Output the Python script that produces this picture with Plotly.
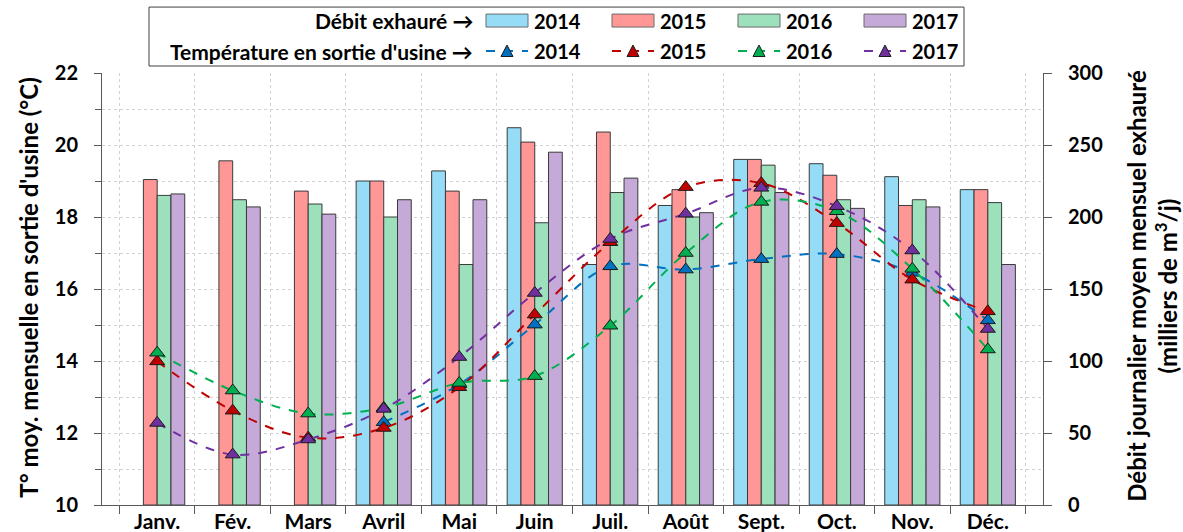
import plotly.graph_objects as go

# ---------------- data ----------------
months = ["Janv.", "Fév.", "Mars", "Avril", "Mai", "Juin", "Juil.", "Août", "Sept.", "Oct.", "Nov.", "Déc."]
years = ["2014", "2015", "2016", "2017"]

debit_2014 = [None, None, None, 225, 232, 262, 167, 208, 240, 237, 228, 219]
debit_2015 = [226, 239, 218, 225, 218, 252, 259, 219, 240, 229, 208, 219]
debit_2016 = [215, 212, 209, 200, 167, 196, 217, 200, 236, 212, 212, 210]
debit_2017 = [216, 207, 202, 212, 212, 245, 227, 203, 217, 206, 207, 167]

temp_2014 = [None, None, None, 12.30, 13.35, 15.01, 16.63, 16.54, 16.83, 16.97, 16.45, 15.13]
temp_2015 = [13.99, 12.62, 11.87, 12.14, 13.27, 15.29, 17.30, 18.83, 18.94, 17.83, 16.26, 15.38]
temp_2016 = [14.23, 13.18, 12.54, 12.70, 13.39, 13.58, 14.98, 17.00, 18.42, 18.16, 16.56, 14.32]
temp_2017 = [12.28, 11.40, 11.82, 12.67, 14.11, 15.89, 17.39, 18.09, 18.81, 18.30, 17.07, 14.89]

left_title = "T° moy. mensuelle en sortie d'usine (°C)"
right_title = "Débit journalier moyen mensuel exhauré<br>(milliers de m<sup>3</sup>/j)"
legend_bar_label = "Débit exhauré →"
legend_line_label = "Température en sortie d'usine →"

# ---------------- styles ----------------
bar_colors = ["#97DCF6", "#FF9797", "#9DE0BC", "#C5A9D8"]
line_colors = ["#0070C0", "#C00000", "#00B050", "#7030A0"]
FONT = "Lato"
W, H = 1183, 532
ML, MR, MT, MB = 102, 140, 73, 26.5
PW, PH = W - ML - MR, H - MT - MB


def px(x):
    return (x - ML) / PW


def py(y):
    return (H - MB - y) / PH


debits = [debit_2014, debit_2015, debit_2016, debit_2017]
temps = [temp_2014, temp_2015, temp_2016, temp_2017]

fig = go.Figure()
for yr, vals, col in zip(years, debits, bar_colors):
    fig.add_trace(go.Bar(
        x=months, y=vals, name="Débit " + yr, yaxis="y",
        marker=dict(color=col, line=dict(color="#3a3a3a", width=1)),
        showlegend=False,
    ))

for yr, vals, col in zip(years, temps, line_colors):
    fig.add_trace(go.Scatter(
        x=months, y=vals, name="Température " + yr, yaxis="y2",
        mode="lines+markers",
        line=dict(color=col, width=2, dash="dash", shape="spline", smoothing=1),
        marker=dict(symbol="triangle-up", size=13, color=col,
                    line=dict(color="#1a1a1a", width=1)),
        showlegend=False,
    ))

grid_col = "#D2D2D2"
axis_col = "#595959"
ytick_font = dict(family=FONT, size=20, color="#000000", weight="bold")
xtick_font = dict(family=FONT, size=21, color="#000000", weight="bold")

fig.update_layout(
    width=W, height=H,
    margin=dict(l=ML, r=MR, t=MT, b=MB, autoexpand=False),
    paper_bgcolor="white", plot_bgcolor="white",
    font=dict(family=FONT, color="#000000"),
    barmode="group", bargap=0.27, bargroupgap=0,
    xaxis=dict(
        type="category", tickson="boundaries", ticks="outside", ticklen=8,
        tickcolor=axis_col, showline=True, linecolor=axis_col, linewidth=1,
        showgrid=True, gridcolor=grid_col, griddash="dot", gridwidth=1,
        tickfont=xtick_font, automargin=False, ticklabelstandoff=-2,
    ),
    yaxis=dict(
        range=[0, 300], side="right", dtick=50, ticks="outside", ticklen=8,
        tickcolor=axis_col, showline=True, linecolor=axis_col, linewidth=1,
        showgrid=True, gridcolor=grid_col, griddash="dot", gridwidth=1,
        zeroline=False, tickfont=ytick_font, ticklabelstandoff=12, automargin=False,
        minor=dict(dtick=25, showgrid=True, gridcolor=grid_col, griddash="dot"),
    ),
    yaxis2=dict(
        range=[10, 22], side="left", overlaying="y", dtick=2,
        ticks="outside", ticklen=7, tickcolor=axis_col,
        showline=True, linecolor=axis_col, linewidth=1, automargin=False,
        showgrid=False, zeroline=False, tickfont=ytick_font, ticklabelstandoff=12,
        minor=dict(dtick=1, ticks="outside", ticklen=6, tickcolor=axis_col),
    ),
)

annotations = []
shapes = []

title_font = dict(family=FONT, size=24, color="#000000", weight="bold")
# axis titles
annotations.append(dict(
    text=left_title, xref="paper", yref="paper", x=px(29), y=py(288),
    xanchor="center", yanchor="middle", textangle=-90, showarrow=False,
    font=title_font,
))
annotations.append(dict(
    text=right_title, xref="paper", yref="paper", x=px(1152), y=py(286),
    xanchor="center", yanchor="middle", textangle=-90, showarrow=False,
    font=title_font,
))

# legend box
shapes.append(dict(type="rect", xref="paper", yref="paper",
                   x0=px(149), x1=px(964), y0=py(7), y1=py(66),
                   line=dict(color="#404040", width=1), fillcolor="white", layer="above"))

leg_font = dict(family=FONT, size=20, color="#000000", weight="bold")
leg_label_font = dict(family=FONT, size=21, color="#000000", weight="bold")
row1, row2 = 20.5, 51
annotations.append(dict(text=legend_bar_label, xref="paper", yref="paper",
                        x=px(475), y=py(row1), xanchor="right", yanchor="middle",
                        showarrow=False, font=leg_label_font))
annotations.append(dict(text=legend_line_label, xref="paper", yref="paper",
                        x=px(475), y=py(row2), xanchor="right", yanchor="middle",
                        showarrow=False, font=leg_label_font))

for i, yr in enumerate(years):
    x0 = 486 + 126 * i
    shapes.append(dict(type="rect", xref="paper", yref="paper",
                       x0=px(x0), x1=px(x0 + 42), y0=py(row1 - 6.5), y1=py(row1 + 6.5),
                       fillcolor=bar_colors[i], line=dict(color="#6a6a6a", width=1),
                       layer="above"))
    shapes.append(dict(type="line", xref="paper", yref="paper",
                       x0=px(x0), x1=px(x0 + 42), y0=py(row2), y1=py(row2),
                       line=dict(color=line_colors[i], width=2, dash="dash"), layer="above"))
    cx = x0 + 21
    tri = "M {:.5f},{:.5f} L {:.5f},{:.5f} L {:.5f},{:.5f} Z".format(
        px(cx - 6), py(row2 + 5.5), px(cx + 6), py(row2 + 5.5), px(cx), py(row2 - 6))
    shapes.append(dict(type="path", xref="paper", yref="paper", path=tri,
                       fillcolor=line_colors[i], line=dict(color="#1a1a1a", width=1),
                       layer="above"))
    for ry in (row1, row2):
        annotations.append(dict(text=yr, xref="paper", yref="paper",
                                x=px(x0 + 46), y=py(ry), xanchor="left", yanchor="middle",
                                showarrow=False, font=leg_font))

fig.update_layout(annotations=annotations, shapes=shapes)

fig.write_html(
    "out.html",
    config={"displayModeBar": False},
    post_script="document.body.style.margin='0';document.body.style.padding='0';",
)
